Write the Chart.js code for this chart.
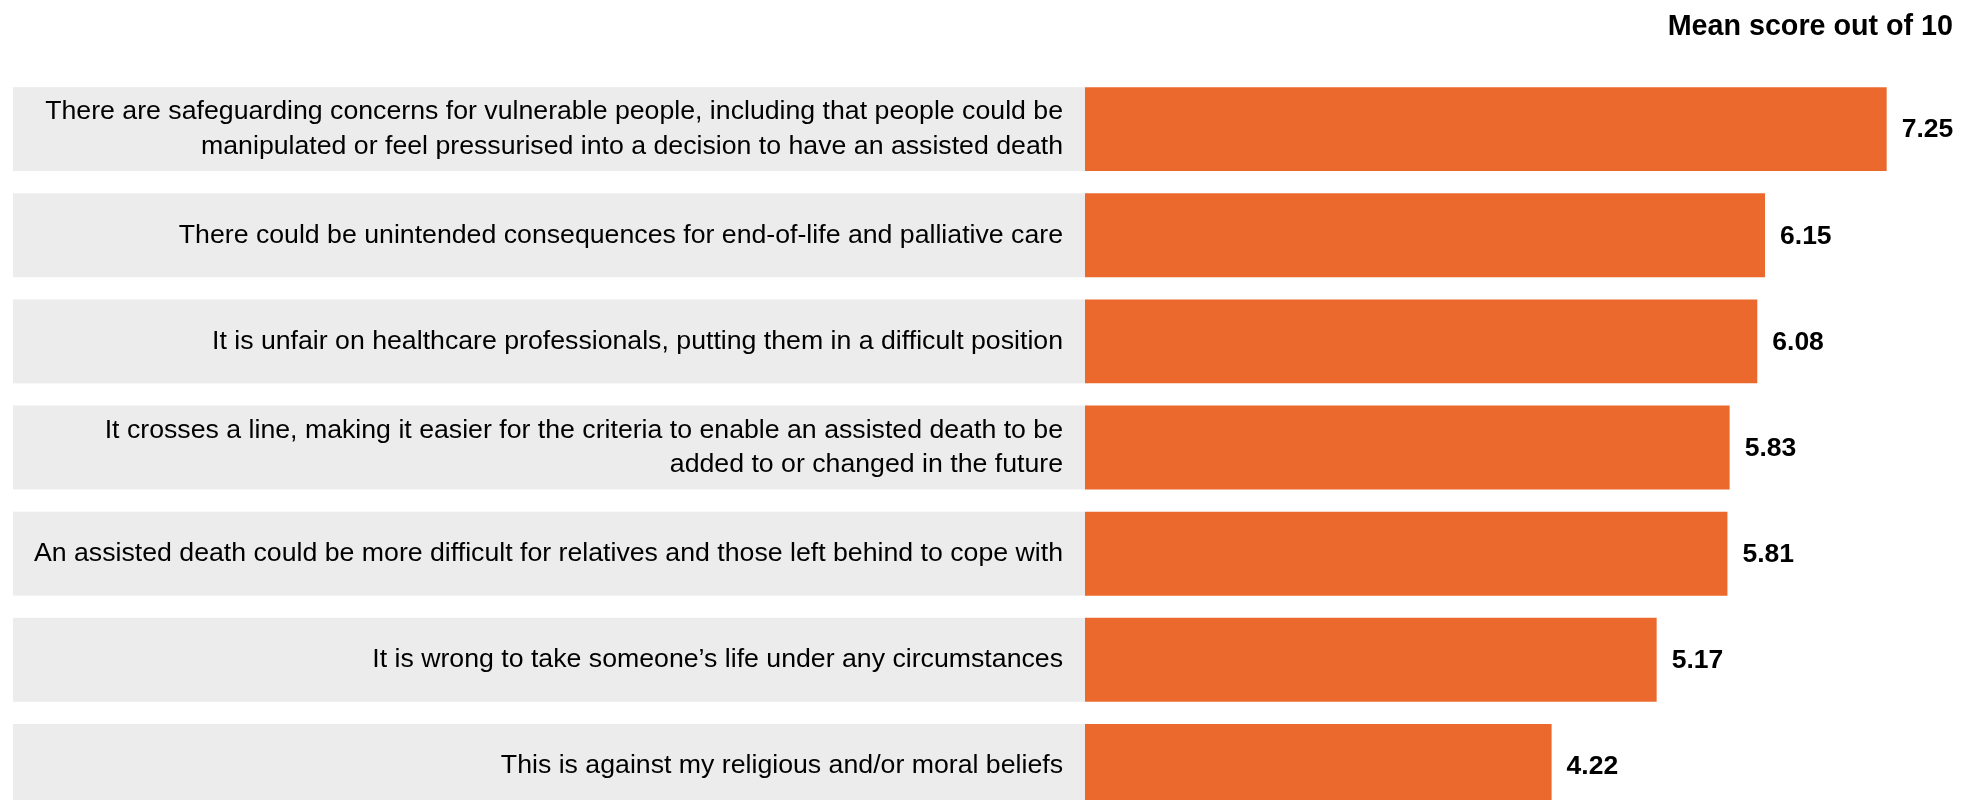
<!DOCTYPE html>
<html>
<head>
<meta charset="utf-8">
<script src="https://cdn.jsdelivr.net/npm/chart.js@4.4.1/dist/chart.umd.min.js"></script>
<style>
  html, body { margin: 0; padding: 0; background: #fff; overflow: hidden; }
  #wrap { width: 1962px; height: 830px; }
</style>
</head>
<body>
<div id="wrap"><canvas id="chart" width="1962" height="830"></canvas></div>
<script>
// Reasons against assisted death — mean score out of 10
const REASONS = [
  ["There are safeguarding concerns for vulnerable people, including that people could be",
   "manipulated or feel pressurised into a decision to have an assisted death"],
  "There could be unintended consequences for end-of-life and palliative care",
  "It is unfair on healthcare professionals, putting them in a difficult position",
  ["It crosses a line, making it easier for the criteria to enable an assisted death to be",
   "added to or changed in the future"],
  "An assisted death could be more difficult for relatives and those left behind to cope with",
  "It is wrong to take someone\u2019s life under any circumstances",
  "This is against my religious and/or moral beliefs",
];
const MEAN_SCORES = [7.25, 6.15, 6.08, 5.83, 5.81, 5.17, 4.22];
const TITLE = "Mean score out of 10";

const COLORS = {
  bar: "#ec692e",
  band: "#ececec",
  text: "#000000",
};
const FONT = "'Liberation Sans', Arial, sans-serif";

// grey strip behind each row, from the left edge up to the bar base
const rowBands = {
  id: "rowBands",
  beforeDraw(chart) {
    const { ctx } = chart;
    const meta = chart.getDatasetMeta(0);
    const left = chart.options.layout.padding.left;
    ctx.save();
    ctx.fillStyle = COLORS.band;
    meta.data.forEach((bar) => {
      const { y, height, base } = bar.getProps(["y", "height", "base"], true);
      ctx.fillRect(left, y - height / 2, base - left, height);
    });
    ctx.restore();
  },
};

// bold score to the right of each bar
const valueLabels = {
  id: "valueLabels",
  afterDatasetsDraw(chart) {
    const { ctx } = chart;
    const meta = chart.getDatasetMeta(0);
    const values = chart.data.datasets[0].data;
    ctx.save();
    ctx.font = `bold 26.5px ${FONT}`;
    ctx.fillStyle = COLORS.text;
    ctx.textAlign = "left";
    ctx.textBaseline = "middle";
    meta.data.forEach((bar, i) => {
      ctx.fillText(values[i].toFixed(2), bar.x + 15, bar.y + 1);
    });
    ctx.restore();
  },
};

new Chart(document.getElementById("chart"), {
  type: "bar",
  data: {
    labels: REASONS,
    datasets: [{
      data: MEAN_SCORES,
      backgroundColor: COLORS.bar,
      borderWidth: 0,
      barPercentage: 0.791,
      categoryPercentage: 1,
    }],
  },
  plugins: [rowBands, valueLabels],
  options: {
    indexAxis: "y",
    responsive: false,
    animation: false,
    layout: { padding: { left: 13, right: 9, top: 0, bottom: 11 } },
    plugins: {
      legend: { display: false },
      tooltip: { enabled: false },
      title: {
        display: true,
        text: TITLE,
        align: "end",
        color: COLORS.text,
        font: { family: FONT, size: 28.7, weight: "bold", lineHeight: 1.2 },
        padding: { top: 9.5, bottom: 32.1 },
      },
    },
    scales: {
      x: { display: false, min: 0, max: 7.85 },
      y: {
        grid: { display: false, drawTicks: false },
        border: { display: false },
        ticks: {
          color: COLORS.text,
          padding: 22,
          font: { family: FONT, size: 26.7, lineHeight: 1.3 },
        },
        afterFit: (scale) => {
          scale.width = 1085 - 13;
          scale.paddingTop = 0;
          scale.paddingBottom = 0;
        },
      },
    },
  },
});
</script>
</body>
</html>
